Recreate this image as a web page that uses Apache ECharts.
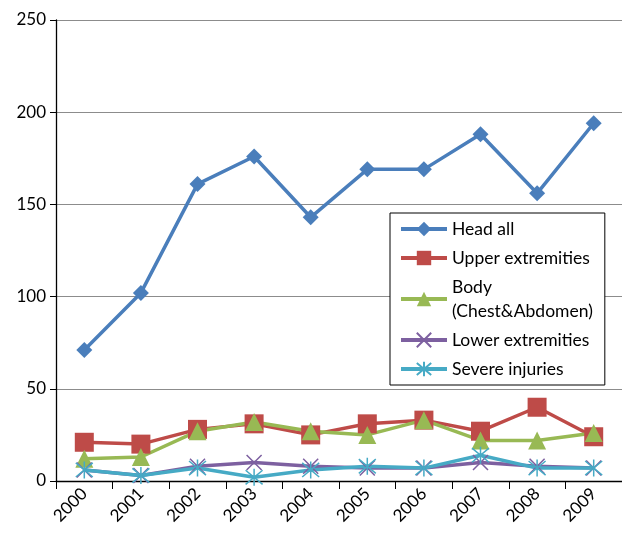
<!DOCTYPE html>
<html><head><meta charset="utf-8">
<script src="https://cdn.jsdelivr.net/npm/echarts@6/dist/echarts.min.js"></script>
<style>html,body{margin:0;padding:0;background:#fff}#c{width:622px;height:536px}</style>
</head><body><div id="c"></div>
<script>
const years = ['2000','2001','2002','2003','2004','2005','2006','2007','2008','2009'];
const headAll = [71, 102, 161, 176, 143, 169, 169, 188, 156, 194];
const upperExt = [21, 20, 28, 31, 25, 31, 33, 27, 40, 24];
const body = [12, 13, 27, 32, 27, 25, 33, 22, 22, 26];
const lowerExt = [6, 3, 8, 10, 8, 7, 7, 10, 8, 7];
const severe = [6, 3, 7, 2, 6, 8, 7, 14, 7, 7];
const yTicks = [0, 50, 100, 150, 200, 250];
const seriesNames = ['Head all','Upper extremities','Body\n(Chest&Abdomen)','Lower extremities','Severe injuries'];

const font = 'Lato, "Open Sans", sans-serif';
const X = 'path://M0,0L10,10M10,0L0,10';
const AST = 'path://M5,-1L5,11M0,0L10,10M10,0L0,10';

function ser(name, data, color, symbol, size, stroked) {
  return {
    name, type: 'line', data, symbol, symbolSize: size,
    lineStyle: {color, width: 3.5},
    itemStyle: stroked ? {color: 'rgba(0,0,0,0)', borderColor: color, borderWidth: 1.5} : {color},
    emphasis: {disabled: true}
  };
}

const chart = echarts.init(document.getElementById('c'));
chart.setOption({
  animation: false,
  grid: {left: 56, top: 20, width: 574, bottom: 55},
  legend: {
    orient: 'vertical', left: 390, top: 213,
    backgroundColor: '#fff', borderColor: '#000', borderWidth: 1,
    padding: [4, 12, 4, 9], itemGap: 5, itemWidth: 46, itemHeight: 18,
    textStyle: {fontFamily: font, fontSize: 17.5, color: '#000', lineHeight: 24},
    data: seriesNames.map(n => ({name: n, lineStyle: {width: 4}}))
  },
  xAxis: {
    type: 'category', data: years, boundaryGap: true,
    axisLine: {lineStyle: {color: '#000', width: 1.3}},
    axisTick: {show: true, length: 8, lineStyle: {color: '#000'}},
    axisLabel: {rotate: 45, fontFamily: font, fontSize: 17, color: '#000', margin: 10}
  },
  yAxis: {
    type: 'value', min: yTicks[0], max: yTicks[yTicks.length-1], interval: 50,
    axisLine: {show: true, lineStyle: {color: '#000', width: 1.3}},
    axisTick: {show: true, length: 6, lineStyle: {color: '#000'}},
    splitLine: {lineStyle: {color: '#8c8c8c', width: 1}},
    axisLabel: {fontFamily: font, fontSize: 17, color: '#000', margin: 10}
  },
  series: [
    ser(seriesNames[0], headAll, '#4a7ebb', 'diamond', 16),
    ser(seriesNames[1], upperExt, '#be4b48', 'rect', 19),
    ser(seriesNames[2], body, '#98b954', 'triangle', 18),
    ser(seriesNames[3], lowerExt, '#7d60a0', X, 15, true),
    ser(seriesNames[4], severe, '#46aac5', AST, 17, true)
  ]
});
</script></body></html>
